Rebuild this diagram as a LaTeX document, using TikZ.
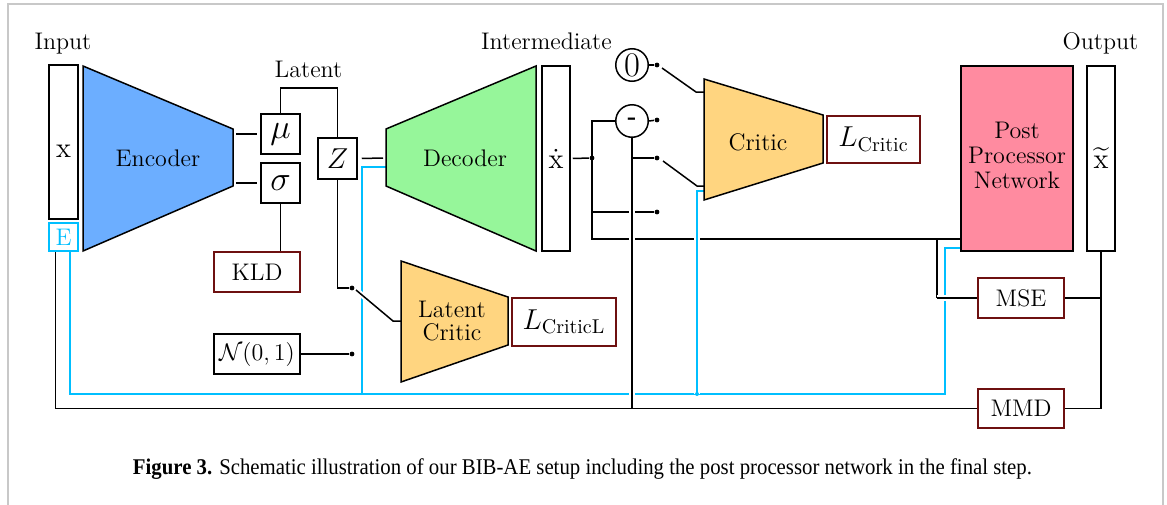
\documentclass[tikz,border=0pt]{standalone}
\usepackage{fontspec}
\usepackage{amsmath}
\usepackage{graphicx}
\newfontfamily\capfont{Liberation Serif}
\definecolor{encblue}{RGB}{108,174,255}
\definecolor{decgreen}{RGB}{150,246,154}
\definecolor{critorange}{RGB}{255,213,128}
\definecolor{ppink}{RGB}{255,139,160}
\definecolor{skycyan}{RGB}{0,191,255}
\definecolor{lossred}{RGB}{110,16,16}
\definecolor{framegray}{RGB}{200,200,200}
\pgfdeclarelayer{bg}
\pgfsetlayers{bg,main}
\begin{document}
\begin{tikzpicture}[x=0.5pt,y=-0.5pt,line width=0.75pt,
  txt/.style={font=\fontsize{12}{12.5}\selectfont, inner sep=0pt, align=center},
  box/.style={draw, inner sep=0pt, fill=white},
  loss/.style={draw=lossred, inner sep=0pt, fill=white, font=\fontsize{12}{12.5}\selectfont},
  dotn/.style={circle, fill=black, inner sep=0pt, minimum size=2.4pt},
  over/.style={preaction={draw=white, line width=2.8pt}},
  cyline/.style={draw=skycyan}
]
\useasboundingbox (0,0) rectangle (1167,504);
\draw[framegray, line width=1pt] (8,520) -- (8,4) -- (1163,4) -- (1163,520);

% labels
\node[txt, anchor=base] (inlab) at (63,49) {Input};
\node[txt, anchor=base] (latlab) at (308.5,77) {Latent};
\node[txt, anchor=base] (intlab) at (546.5,49) {Intermediate};
\node[txt, anchor=base] (outlab) at (1100.5,49) {Output};

% input
\node[box, minimum width=14.5pt, minimum height=77pt] (xin) at (63.5,142) {};
\node[font=\Large, inner sep=0pt] (xlab) at (63.5,151.5) {x};
\node[draw=skycyan, text=skycyan, minimum width=14.5pt, minimum height=14pt, inner sep=0pt, font=\fontsize{12}{12}\selectfont] (E) at (63.5,237) {E};

% encoder
\draw[fill=encblue] (83,66) -- (233,129) -- (233,186) -- (83,251) -- cycle;
\node[txt] (enc) at (158,158) {Encoder};
\coordinate (encR) at (233,158);

\node[box, minimum width=19.5pt, minimum height=20pt, font=\LARGE] (mu) at (280.5,134) {$\mu$};
\node[box, minimum width=19.5pt, minimum height=20pt, font=\LARGE] (sigma) at (280.5,183) {$\sigma$};
\node[box, minimum width=19.5pt, minimum height=20.5pt, font=\Large] (Z) at (337.5,158.5) {$Z$};
\node[loss, minimum width=43pt, minimum height=20pt] (kld) at (257,272) {KLD};
\node[box, minimum width=43pt, minimum height=20pt, font=\large] (nrm) at (257,354) {$\mathcal{N}(0,1)$};

% decoder
\draw[fill=decgreen] (386,129) -- (536,66) -- (536,251) -- (386,186) -- cycle;
\node[txt] (dec) at (465,158) {Decoder};
\coordinate (decL) at (386,158);
\node[box, minimum width=14pt, minimum height=92.5pt, font=\Large] (xdot) at (556,158.5) {$\dot{\mathrm{x}}$};

% latent critic
\draw[fill=critorange] (401,261) -- (508,297) -- (508,345) -- (401,382) -- cycle;
\node[txt, font=\fontsize{12}{11.5}\selectfont] (lcrit) at (452,321) {Latent\\Critic};
\coordinate (lcritL) at (401,321);
\node[loss, minimum width=52pt, minimum height=24pt, font=\Large] (lcl) at (564,322) {$L_{\text{CriticL}}$};

% critic
\draw[fill=critorange] (704,79) -- (823,115) -- (823,163) -- (704,200) -- cycle;
\node[txt] (crit) at (758,142) {Critic};
\node[loss, minimum width=46.5pt, minimum height=23.5pt, font=\Large] (lc) at (873.5,139.5) {$L_{\text{Critic}}$};

\node[draw, circle, fill=white, minimum size=16.25pt, inner sep=0pt, font=\LARGE] (zero) at (632,65) {0};
\node[draw, circle, fill=white, minimum size=16.25pt, inner sep=0pt, font=\large\bfseries] (minus) at (632,121) {-};

% post processor and output
\node[draw, fill=ppink, minimum width=56pt, minimum height=92.5pt, inner sep=0pt] (pp) at (1017,158.5) {};
\node[txt] (pptext) at (1017,155) {Post\\Processor\\Network};
\node[box, minimum width=14pt, minimum height=92.5pt, font=\Large] (xt) at (1101,158.5) {$\widetilde{\mathrm{x}}$};
\node[loss, minimum width=43pt, minimum height=20pt] (mse) at (1021,298) {MSE};
\node[loss, minimum width=43pt, minimum height=19.5pt] (mmd) at (1021,408.5) {MMD};

% dots
\node[dotn] (d1) at (352,288) {};
\node[dotn] (d2) at (352,354) {};
\node[dotn] (d3) at (657,65) {};
\node[dotn] (d4) at (657,120) {};
\node[dotn] (d5) at (657,158) {};
\node[dotn] (d6) at (657,212) {};
\node[dotn] (j1) at (592,158) {};
\node[dotn, fill=skycyan, minimum size=2pt] (j2) at (697,394) {};

% coordinates
\coordinate (lt) at (309,88);
\coordinate (c239) at (961,239);
\coordinate (s1) at (662,68);
\coordinate (s1b) at (696,92);
\coordinate (cr1) at (704,92);
\coordinate (s2) at (663,161);
\coordinate (s2b) at (697,186);
\coordinate (cr2) at (704,186);
\coordinate (m1) at (937,239);
\coordinate (cyDec) at (386,167);
\coordinate (cy1) at (362,394);
\coordinate (cyL) at (70,394);
\coordinate (cyR) at (945,394);
\coordinate (cyT) at (945,248);
\coordinate (ppcy) at (961,248);
\coordinate (cr3) at (704,191);
\coordinate (dg0) at (356,290);
\coordinate (dg1) at (393,321);

\begin{pgfonlayer}{bg}
\begin{scope}[line width=0.75pt]
\draw[shorten <=1.5pt, shorten >=1.5pt] (encR |- mu) -- (mu.west);
\draw[shorten <=1.5pt, shorten >=1.5pt] (encR |- sigma) -- (sigma.west);
\draw (mu.north) |- (lt) -| (Z.north);
\draw (sigma.south) -- (sigma.south |- kld.north);
\draw[shorten <=2pt, shorten >=1.5pt] (Z.east) -- (decL);
\draw (Z.south) |- (d1);
\draw (nrm.east) -- (d2);
\draw[shorten <=1pt] (xdot.east) -- (j1);
\draw (minus.west) -| (j1.center) |- (c239);
\draw (j1.center |- d6) -- (d6);
\draw (minus.east) -- (d4);
\draw (zero.east) -- (d3);
\draw (s1) -- (s1b) -- (cr1);
\draw (s2) -- (s2b) -- (cr2);
\draw (m1) -- (m1 |- mse.west);
\draw (xt.south) |- (mmd.east);
\draw (mse.east) -- (xt.south |- mse.east);
% cyan
\draw[cyline] (cyDec) -| (cy1);
\draw[cyline] ([xshift=3.25pt]E.south) -- (cyL) -- (cyR) -- (cyT) -- (ppcy);
\draw[cyline, over] (j2.center) |- (cr3);
% black over
\draw[over] (m1 |- mse.west) -- (mse.west);
\draw[over] (minus.south) -- (minus.south |- mmd.west);
\draw (minus.south |- d5) -- (d5);
\draw ([xshift=-4pt]E.south) |- (mmd.west);
\draw[over] (dg0) -- (dg1) -- (lcritL);
\end{scope}
\end{pgfonlayer}

% caption
\node[anchor=base, inner sep=0pt] (cap) at (582.5,474) {\scalebox{1}[1.08]{\resizebox{449.5pt}{!}{\capfont\textbf{Figure 3.} Schematic illustration of our BIB-AE setup including the post processor network in the final step.}}};
\end{tikzpicture}
\end{document}
